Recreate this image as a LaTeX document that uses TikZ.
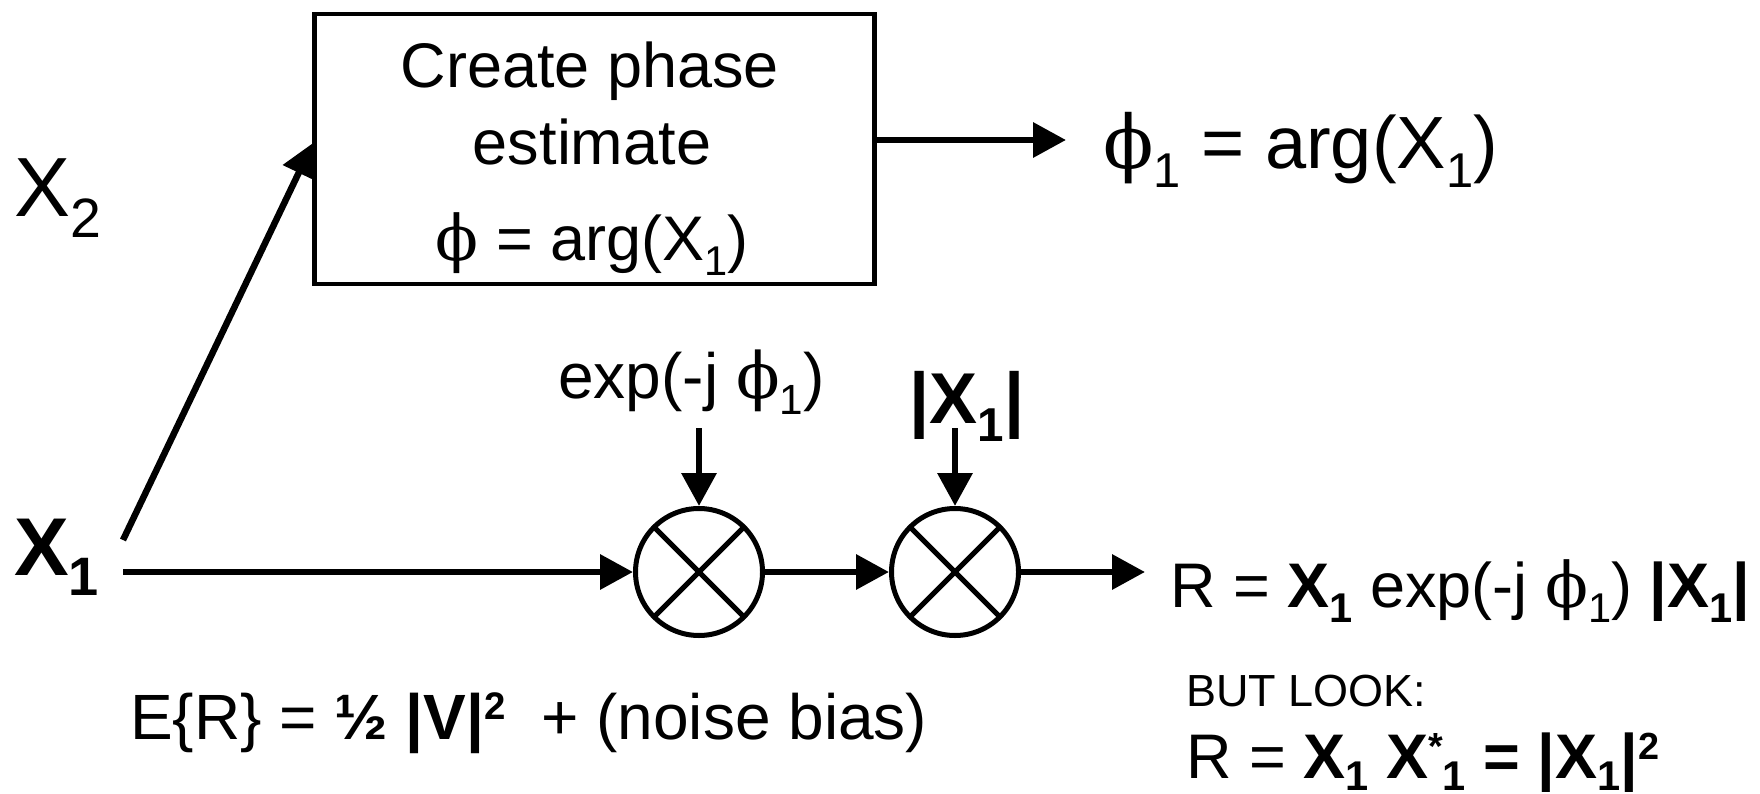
\documentclass[tikz,border=0pt]{standalone}
\usepackage{fontspec}
\usepackage{graphicx}
\setmainfont{Liberation Sans}
\newfontfamily\phf{DejaVu Serif}
\usetikzlibrary{arrows.meta,calc}
\newcommand\fs[1]{\fontsize{#1}{#1}\selectfont}
\newcommand\dn[1]{\raisebox{-0.25em}{\scalebox{0.66}{#1}}}
\newcommand\dnn[1]{\raisebox{-0.2em}{\scalebox{0.66}{#1}}}
\newcommand\up[1]{\raisebox{0.3em}{\scalebox{0.6}{#1}}}
\newcommand\ph{{\phf ϕ}}
\begin{document}
\begin{tikzpicture}[x=1pt,y=-1pt,
  conn/.style={line width=6.5pt,-{Triangle[length=33pt,width=34pt]}},
  mult/.style={circle,draw,line width=5pt,minimum size=127pt,inner sep=0pt},
  crossln/.style={line width=5pt},
  box/.style={draw,line width=4.5pt,minimum width=560pt,minimum height=270pt,inner sep=0pt},
  txt/.style={inner sep=0pt,anchor=base west},
  ctxt/.style={inner sep=0pt,anchor=base}]
\useasboundingbox (0,0) rectangle (1760,794);
% box and its text
\node[box] (est) at (594.5,149) {};
\node[ctxt,font=\fs{63}] (t1) at (590,88) {Create phase};
\node[ctxt,font=\fs{63}] (t2) at (592,165) {estimate};
\node[ctxt,font=\fs{63}] (t3) at (592,260) {\ph{} = arg(X\dn{1})};
% labels
\node[txt,font=\fs{84}] (x2) at (14,217) {X\dn{2}};
\node[txt,font=\fs{82}\bfseries] (x1) at (14,575) {X\dn{1}};
\node[txt,font=\fs{74}] (phi1) at (1103,169) {\ph\dn{1} = arg(X\dn{1})};
\node[txt,font=\fs{64}] (expl) at (558,398) {exp(-j \ph\dn{1})};
\node[ctxt,font=\fs{72}\bfseries] (absl) at (967,423) {|X\dn{1}|};
\node[txt,font=\fs{63}] (r1) at (1170,607) {R = \textbf{X\dn{1}} exp(-j \ph\dn{1}) \textbf{|X\dn{1}|}};
\node[txt,font=\fs{45}] (look) at (1186,706) {BUT LOOK:};
\node[txt,font=\fs{63}] (r2) at (1186,778) {R = \textbf{X\dnn{1} X\up{*}\dnn{1} = |X\dnn{1}|\up{2}}};
\node[txt,font=\fs{64}] (er) at (130,739) {E\{R\} = \textbf{½ |V|\up{2}}\ \ + (noise bias)};
% multipliers
\node[mult] (m1) at (699,572) {};
\node[mult] (m2) at (955,572) {};
\foreach \m in {m1,m2}{
  \draw[crossln] ($(\m)+(45:63.5)$) -- ($(\m)+(225:63.5)$);
  \draw[crossln] ($(\m)+(135:63.5)$) -- ($(\m)+(315:63.5)$);
}
% connector ends
\coordinate (x1s) at (123,572);
\coordinate (x1d) at (123,540);
\coordinate (a2) at (313,143);
\coordinate (a1) at (1066,140);
\coordinate (e1) at (699,428);
\coordinate (e2) at (955,428);
\coordinate (rout) at (1145,572);
% connectors
\draw[conn] (x1d) -- (a2);
\draw[conn] (est.east |- a1) -- (a1);
\draw[conn] (x1s) -- (m1);
\draw[conn] (m1) -- (m2);
\draw[conn] (m2) -- (rout);
\draw[conn] (e1) -- (m1);
\draw[conn] (e2) -- (m2);
\end{tikzpicture}
\end{document}
